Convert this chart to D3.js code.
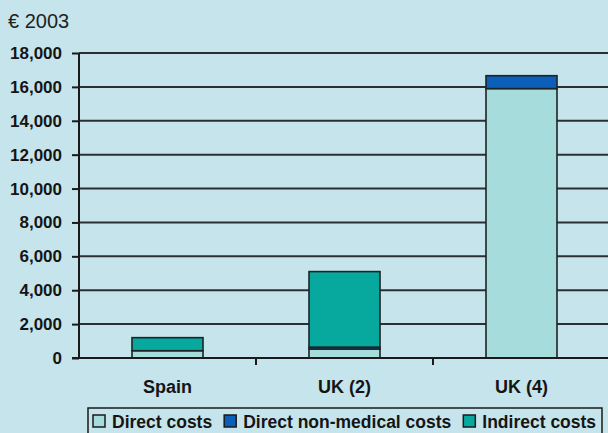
<!DOCTYPE html>
<html lang="en">
<head>
<meta charset="utf-8">
<title>Costs per patient, € 2003</title>
<script src="https://d3js.org/d3.v7.min.js"></script>
<style>
  body { margin: 0; background: #c6e4eb; }
  svg { display: block; font-family: Arial, "Liberation Sans", sans-serif; }
  .tick text { font-weight: bold; font-size: 17px; fill: #151515; }
  .xax .tick text { font-size: 18px; }
  .grid line { stroke: #2b2f33; stroke-width: 2; }
  .bar { stroke: #1d2326; stroke-width: 1.6; }
</style>
</head>
<body>
<script>
// data
var categories = ["Spain", "UK (2)", "UK (4)"];
var seriesNames = ["Direct costs", "Direct non-medical costs", "Indirect costs"];
var directCosts = [430, 530, 15900];
var directNonMedical = [0, 110, 760];
var indirectCosts = [770, 4460, 0];
var yTicks = [0, 2000, 4000, 6000, 8000, 10000, 12000, 14000, 16000, 18000];

var colors = ["#a6dcdc", "#0b5fb8", "#07a89d"];

var w = 608, h = 433;
var mLeft = 79, mRight = 610, mTop = 53, mBottom = 358;

// stack rows
var rows = categories.map(function(c, i) {
  return {
    cat: c,
    "Direct costs": directCosts[i],
    "Direct non-medical costs": directNonMedical[i],
    "Indirect costs": indirectCosts[i]
  };
});
var stacked = d3.stack().keys(seriesNames)(rows);

var x = d3.scaleBand().domain(categories).range([mLeft, mRight]).paddingInner(0).paddingOuter(0);
var y = d3.scaleLinear().domain([0, 18000]).range([mBottom, mTop]);

var svg = d3.select("body").append("svg").attr("width", w).attr("height", h);

// gridlines
svg.append("g").attr("class", "grid")
  .selectAll("line").data(yTicks.slice(1)).join("line")
  .attr("x1", mLeft).attr("x2", mRight)
  .attr("y1", function(d) { return y(d); }).attr("y2", function(d) { return y(d); });

// bars
var barW = 71;
svg.append("g").selectAll("g").data(stacked).join("g")
  .attr("fill", function(d, i) { return colors[i]; })
  .selectAll("rect").data(function(d) { return d.filter(function(p) { return p[1] - p[0] > 0; }); })
  .join("rect")
  .attr("class", "bar")
  .attr("x", function(d) { return x(d.data.cat) + (x.bandwidth() - barW) / 2; })
  .attr("width", barW)
  .attr("y", function(d) { return y(d[1]); })
  .attr("height", function(d) { return y(d[0]) - y(d[1]); });

// y axis
var yAxis = d3.axisLeft(y).tickValues(yTicks).tickFormat(d3.format(",")).tickSize(7).tickPadding(10);
var gy = svg.append("g").attr("transform", "translate(" + mLeft + ",0)").call(yAxis);
gy.select(".domain").attr("stroke", "#1a1a1a").attr("stroke-width", 2).attr("d", "M0," + mTop + "V" + mBottom);
gy.selectAll(".tick line").attr("stroke", "#1a1a1a").attr("stroke-width", 2);

// x axis
var xAxis = d3.axisBottom(x).tickSize(0).tickPadding(22);
var gx = svg.append("g").attr("class", "xax").attr("transform", "translate(0," + mBottom + ")").call(xAxis);
gx.select(".domain").attr("stroke", "#1a1a1a").attr("stroke-width", 2).attr("d", "M" + (mLeft - 7) + ",0H" + mRight);
gx.selectAll(".sep").data(categories.slice(1)).join("line")
  .attr("class", "sep")
  .attr("x1", function(d) { return x(d); }).attr("x2", function(d) { return x(d); })
  .attr("y1", 0).attr("y2", 7)
  .attr("stroke", "#1a1a1a").attr("stroke-width", 2);

// unit label
svg.append("text")
  .attr("x", 8).attr("y", 28)
  .attr("font-size", 20).attr("fill", "#222")
  .text("€ 2003");

// legend
var lg = svg.append("g");
lg.append("rect")
  .attr("x", 88).attr("y", 408).attr("width", 514).attr("height", 30)
  .attr("fill", "none").attr("stroke", "#1a1a1a").attr("stroke-width", 1.5);
var lx = 93;
seriesNames.forEach(function(name, i) {
  lg.append("rect")
    .attr("x", lx).attr("y", 415).attr("width", 12).attr("height", 12)
    .attr("fill", colors[i]).attr("stroke", "#1a1a1a").attr("stroke-width", 1.5);
  var t = lg.append("text")
    .attr("x", lx + 19).attr("y", 428)
    .attr("font-size", 17.5).attr("font-weight", "bold").attr("fill", "#151515")
    .text(name);
  lx += 19 + t.node().getComputedTextLength() + 12;
});
</script>
</body>
</html>
